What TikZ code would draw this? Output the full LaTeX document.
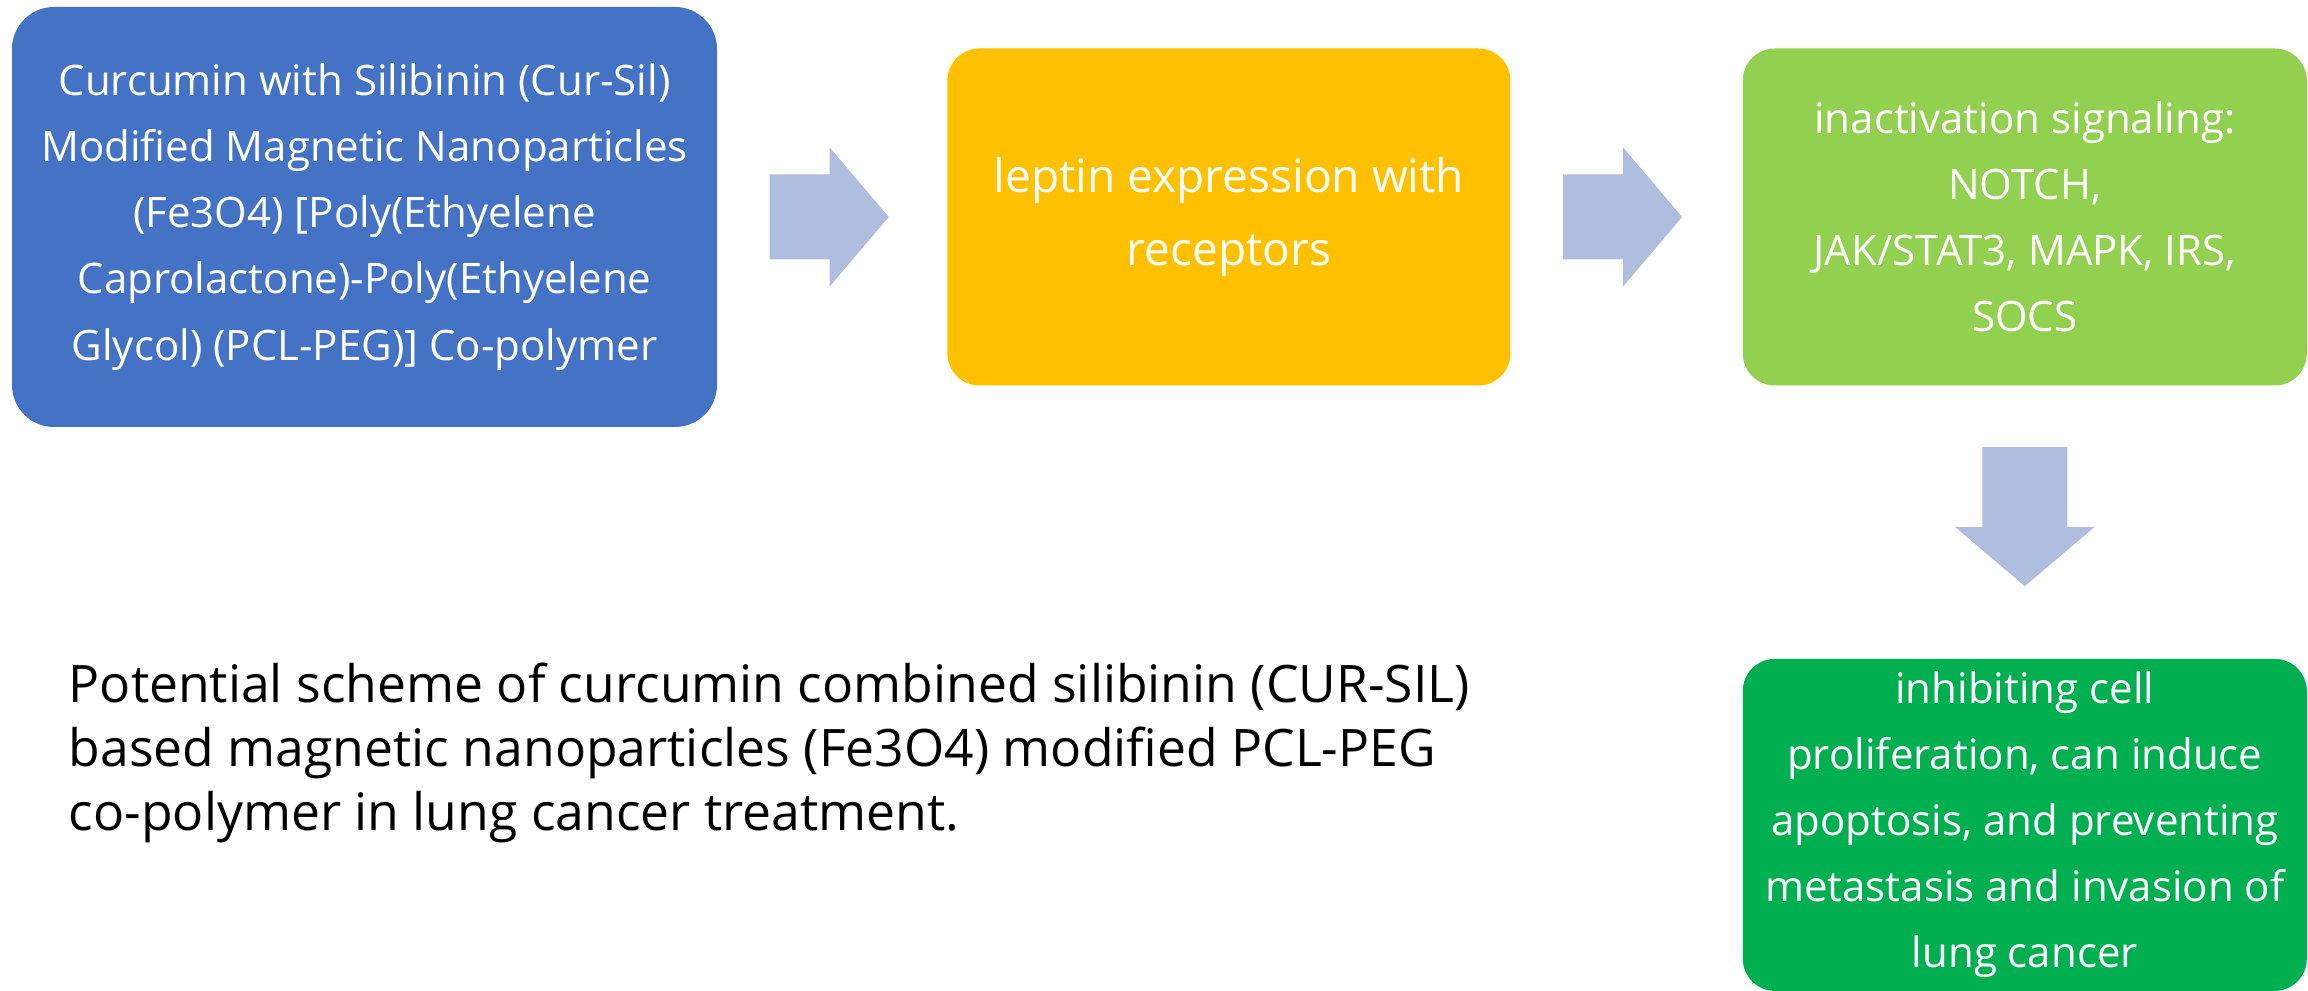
\documentclass[tikz,border=0pt]{standalone}
\usepackage{fontspec}
\setmainfont{Open Sans}
\usepackage{tikz}
\usetikzlibrary{positioning,calc}
\definecolor{cCur}  {HTML}{4472C4}
\definecolor{cLep}  {HTML}{FFC000}
\definecolor{cSig}  {HTML}{92D050}
\definecolor{cOut}  {HTML}{00B050}
\definecolor{cArrow}{HTML}{AFBDDF}
\tikzset{
  sbox/.style={rounded corners=3.2mm,align=center,inner sep=0pt,text=white,
               font=\fontsize{11.95}{18.8}\selectfont},
  scur/.style={sbox,fill=cCur,rounded corners=4.2mm,minimum width=7.05cm,minimum height=4.2cm},
  slep/.style={sbox,fill=cLep,minimum width=5.63cm,minimum height=3.37cm,
               font=\fontsize{13.1}{21}\selectfont},
  ssig/.style={sbox,fill=cSig,minimum width=5.64cm,minimum height=3.37cm},
  sout/.style={sbox,fill=cOut,minimum width=5.64cm,minimum height=3.32cm},
  scap/.style={align=left,inner sep=0pt,font=\fontsize{14.7}{18.1}\selectfont},
  pics/barrow/.style={code={
    \fill[cArrow] (0,-0.425) -- (#1-0.59,-0.425) -- (#1-0.59,-0.695) -- (#1,0)
      -- (#1-0.59,0.695) -- (#1-0.59,0.425) -- (0,0.425) -- cycle;}},
}

\begin{document}
\begin{tikzpicture}
    \useasboundingbox (0,0) rectangle (23.08,9.91);
    \node[scur] (cur) at (3.645,7.74)
      {Curcumin with Silibinin (Cur-Sil)\\Modified Magnetic Nanoparticles\\(Fe3O4) [Poly(Ethyelene\\Caprolactone)-Poly(Ethyelene\\Glycol) (PCL-PEG)] Co-polymer};
    \node[slep,right=2.29cm of cur] (lep) {leptin expression with\\receptors};
    \node[ssig,right=2.31cm of lep] (sig) {inactivation signaling:\\NOTCH,\\JAK/STAT3, MAPK, IRS,\\SOCS};
    \node[sout,below=2.72cm of sig] (out) {inhibiting cell\\proliferation, can induce\\apoptosis, and preventing\\metastasis and invasion of\\lung cancer};
    \node[scap,anchor=west] (cap) at (0.68,2.38)
      {Potential scheme of curcumin combined silibinin (CUR-SIL)\\based magnetic nanoparticles (Fe3O4) modified PCL-PEG\\co-polymer in lung cancer treatment.};
    \pic at ($(cur.east)+(0.52,0)$) {barrow=1.19};
    \pic at ($(lep.east)+(0.52,0)$) {barrow=1.19};
    \pic[rotate=-90] at ($(sig.south)+(0,-0.61)$) {barrow=1.39};
\end{tikzpicture}
\end{document}
